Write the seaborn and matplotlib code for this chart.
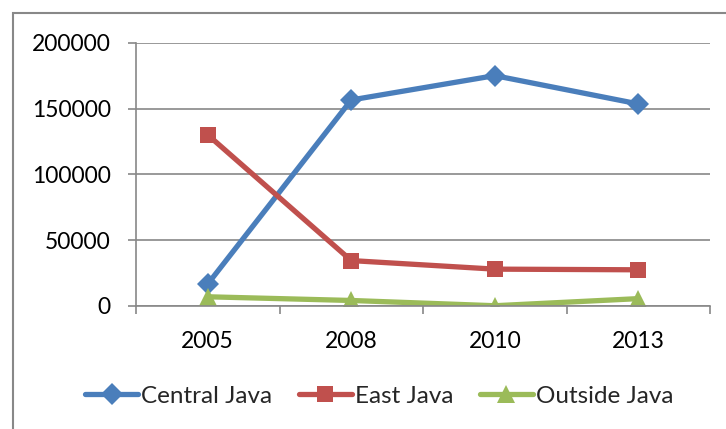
import matplotlib
matplotlib.use("Agg")
import matplotlib.pyplot as plt
import seaborn as sns
import pandas as pd
from matplotlib.patches import Rectangle
from matplotlib.ticker import FixedLocator

years = ["2005", "2008", "2010", "2013"]
central_java = [16700, 156500, 175000, 153500]
east_java = [130000, 34500, 28000, 27500]
outside_java = [7000, 4200, 200, 5600]
y_ticks = [0, 50000, 100000, 150000, 200000]

series = [
    ("Central Java", central_java, "#4A7EBB", "D", 11),
    ("East Java", east_java, "#C0504D", "s", 12),
    ("Outside Java", outside_java, "#9BBB59", "^", 13),
]

sns.set_style("white")
plt.rcParams["font.family"] = ["Lato", "DejaVu Sans"]

fig = plt.figure(figsize=(7.26, 4.29), dpi=100)
ax = fig.add_axes([136 / 726, 1 - 306 / 429, (710 - 136) / 726, (306 - 42.7) / 429])

for name, vals, color, marker, ms in series:
    df = pd.DataFrame({"year": years, "value": vals})
    sns.lineplot(data=df, x="year", y="value", ax=ax, color=color, linewidth=3.8,
                 marker=marker, markersize=ms, markeredgewidth=0, label=name, sort=False)

grid_c = "#888888"
ax.set_xlim(-0.5, 3.5)
ax.set_ylim(0, 200000)
ax.set_yticks(y_ticks)
ax.set_yticklabels([str(v) for v in y_ticks])
ax.set_xticks(range(len(years)))
ax.set_xticklabels(years)
ax.xaxis.set_minor_locator(FixedLocator([-0.5, 0.5, 1.5, 2.5, 3.5]))
ax.set_xlabel("")
ax.set_ylabel("")
ax.yaxis.grid(True, color=grid_c, linewidth=1.2)
ax.xaxis.grid(False)
for s in ["top", "right"]:
    ax.spines[s].set_visible(False)
for s in ["left", "bottom"]:
    ax.spines[s].set_color(grid_c)
    ax.spines[s].set_linewidth(1.2)
ax.tick_params(axis="y", which="major", length=6, width=1.2, color=grid_c, pad=12,
               labelsize=16.5, labelcolor="black", left=True)
ax.tick_params(axis="x", which="major", length=0, pad=18, labelsize=16.5, labelcolor="black")
ax.tick_params(axis="x", which="minor", length=6, width=1.2, color=grid_c, bottom=True)

leg = ax.legend(loc="center", bbox_to_anchor=(379 / 726, 1 - 396.5 / 429), bbox_transform=fig.transFigure,
                ncol=3, frameon=False, fontsize=17.5, handlelength=2.2, handletextpad=0.1,
                columnspacing=1.1, borderaxespad=0)

fig.patches.append(Rectangle((13 / 726, -0.1), 2.0, 1 - 13 / 429 + 0.1, transform=fig.transFigure,
                             fill=False, edgecolor="#888888", linewidth=1.5, zorder=-1))

fig.savefig("out.png", dpi=100)
